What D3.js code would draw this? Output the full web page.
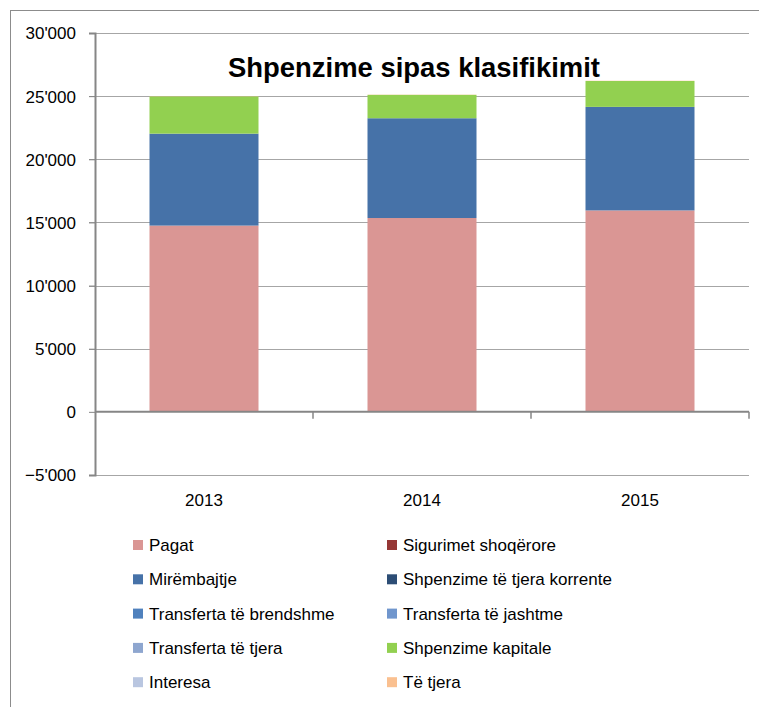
<!DOCTYPE html>
<html>
<head>
<meta charset="utf-8">
<script src="https://cdn.jsdelivr.net/npm/d3@7"></script>
<style>
  body { margin: 0; background: #fff; }
  svg text { font-family: "Liberation Sans", Arial, sans-serif; fill: #000; }
</style>
</head>
<body>
<svg id="chart" width="759" height="707"></svg>
<script>
// data
var years = ["2013", "2014", "2015"];
var seriesNames = ["Pagat", "Sigurimet shoqërore", "Mirëmbajtje", "Shpenzime të tjera korrente",
  "Transferta të brendshme", "Transferta të jashtme", "Transferta të tjera", "Shpenzime kapitale",
  "Interesa", "Të tjera"];
var seriesColors = ["#da9694", "#953735", "#4672a8", "#2c4d75", "#4f81bd", "#7096cd", "#8ea6cf",
  "#92d050", "#b9c6e0", "#fac090"];
var pagat = [14750, 15350, 15950];
var sigurimet = [0, 0, 0];
var mirembajtje = [7280, 7900, 8200];
var tjeraKorrente = [0, 0, 0];
var transBrendshme = [0, 0, 0];
var transJashtme = [0, 0, 0];
var transTjera = [0, 0, 0];
var kapitale = [2950, 1850, 2050];
var interesa = [0, 0, 0];
var teTjera = [20, 20, 20];
var yTicks = [-5000, 0, 5000, 10000, 15000, 20000, 25000, 30000];

var allValues = [pagat, sigurimet, mirembajtje, tjeraKorrente, transBrendshme, transJashtme,
  transTjera, kapitale, interesa, teTjera];

var rows = years.map(function(yr, i) {
  var r = { year: yr };
  seriesNames.forEach(function(s, j) { r[s] = allValues[j][i]; });
  return r;
});

var svg = d3.select("#chart");

// outer frame (cut off at right and bottom)
svg.append("rect")
  .attr("x", 10.5).attr("y", 10.5)
  .attr("width", 800).attr("height", 800)
  .attr("fill", "none").attr("stroke", "#8c8c8c").attr("stroke-width", 1);

var plotLeft = 95, plotRight = 749, plotTop = 33, plotBottom = 475;

var x = d3.scaleBand().domain(years).range([plotLeft, plotRight]).paddingInner(0.5).paddingOuter(0.25);
var y = d3.scaleLinear().domain([-5000, 30000]).range([plotBottom, plotTop]);

// gridlines
svg.append("g").selectAll("line")
  .data(yTicks.filter(function(d) { return d !== 0; }))
  .join("line")
  .attr("x1", plotLeft - 6).attr("x2", plotRight)
  .attr("y1", function(d) { return Math.round(y(d)) + 0.5; })
  .attr("y2", function(d) { return Math.round(y(d)) + 0.5; })
  .attr("stroke", "#a6a6a6").attr("stroke-width", 1.2);

// y axis
var fmt = function(d) { return d3.format(",")(d).replace(/,/g, "'"); };
var yAxis = svg.append("g")
  .attr("transform", "translate(" + plotLeft + ",0)")
  .call(d3.axisLeft(y).tickValues(yTicks).tickSize(6).tickPadding(13).tickFormat(fmt));
yAxis.select(".domain").attr("stroke", "#868686").attr("stroke-width", 2);
yAxis.selectAll(".tick line").attr("stroke", "#868686");
yAxis.selectAll("text").style("font-size", "17px").style("font-family", "Liberation Sans, Arial, sans-serif")
  .attr("dy", "0.35em");

// bars
var stack = d3.stack().keys(seriesNames);
var stacked = stack(rows);
svg.append("g").selectAll("g")
  .data(stacked)
  .join("g")
  .attr("fill", function(d, i) { return seriesColors[i]; })
  .selectAll("rect")
  .data(function(d) { return d; })
  .join("rect")
  .attr("x", function(d) { return x(d.data.year); })
  .attr("width", x.bandwidth())
  .attr("y", function(d) { return y(d[1]); })
  .attr("height", function(d) { return Math.max(0, y(d[0]) - y(d[1])); });

// category axis at zero
var boundaries = years.map(function(yr, i) { return plotLeft + (plotRight - plotLeft) / years.length * (i + 1); });
svg.append("line")
  .attr("x1", plotLeft).attr("x2", plotRight)
  .attr("y1", y(0)).attr("y2", y(0))
  .attr("stroke", "#868686").attr("stroke-width", 2);
svg.append("g").selectAll("line")
  .data(boundaries)
  .join("line")
  .attr("x1", function(d) { return d; }).attr("x2", function(d) { return d; })
  .attr("y1", y(0)).attr("y2", y(0) + 7)
  .attr("stroke", "#868686").attr("stroke-width", 1.5);

svg.append("g").selectAll("text")
  .data(years)
  .join("text")
  .attr("x", function(d) { return x(d) + x.bandwidth() / 2; })
  .attr("y", 506)
  .attr("text-anchor", "middle")
  .style("font-size", "17px")
  .text(function(d) { return d; });

// title
svg.append("text")
  .attr("x", 414).attr("y", 77)
  .attr("text-anchor", "middle")
  .style("font-size", "28px").style("font-weight", "bold")
  .attr("textLength", 372).attr("lengthAdjust", "spacingAndGlyphs")
  .text("Shpenzime sipas klasifikimit");

// legend
var legend = svg.append("g").selectAll("g")
  .data(seriesNames)
  .join("g")
  .attr("transform", function(d, i) {
    var col = i % 2, row = Math.floor(i / 2);
    return "translate(" + (col === 0 ? 133 : 387) + "," + (545 + row * 34.3) + ")";
  });
legend.append("rect")
  .attr("x", 0).attr("y", -5).attr("width", 10).attr("height", 10)
  .attr("fill", function(d, i) { return seriesColors[i]; });
legend.append("text")
  .attr("x", 16).attr("y", 6)
  .style("font-size", "17px")
  .text(function(d) { return d; });
</script>
</body>
</html>
